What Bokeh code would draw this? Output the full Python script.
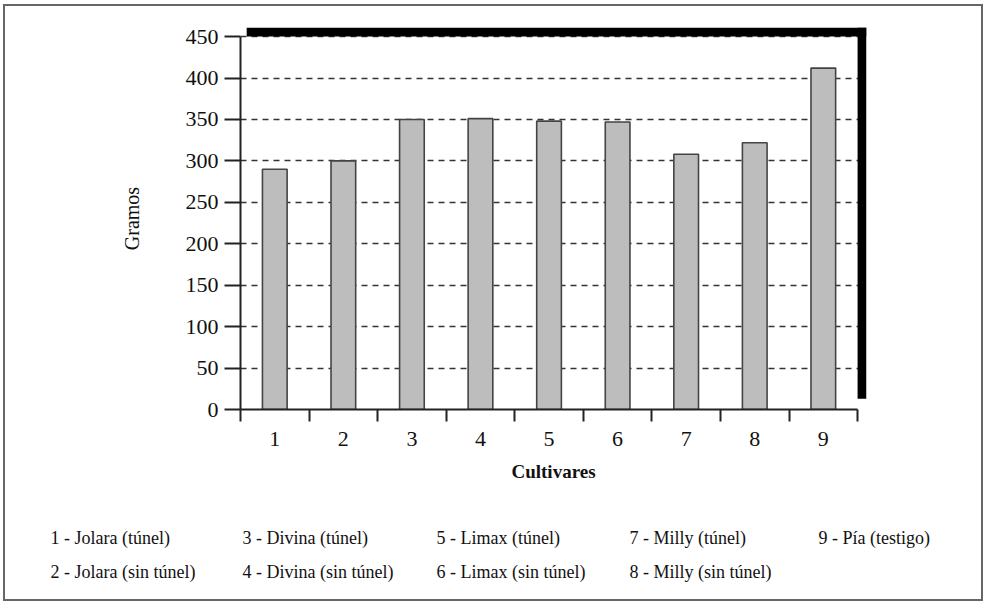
from bokeh.plotting import figure
from bokeh.models import FixedTicker, Range1d, ColumnDataSource
from bokeh.layouts import column, row
from bokeh.core.properties import value
from bokeh.embed import file_html
from bokeh.resources import INLINE

# ---- data ----
cultivares = [1, 2, 3, 4, 5, 6, 7, 8, 9]
gramos = [290, 300, 350, 351, 348, 347, 308, 322, 412]
y_ticks = [0, 50, 100, 150, 200, 250, 300, 350, 400, 450]
legend_labels = [
    "1 - Jolara (túnel)", "2 - Jolara (sin túnel)",
    "3 - Divina (túnel)", "4 - Divina (sin túnel)",
    "5 - Limax (túnel)", "6 - Limax (sin túnel)",
    "7 - Milly (túnel)", "8 - Milly (sin túnel)",
    "9 - Pía (testigo)",
]

SERIF = "Liberation Serif"
TXT = "#111111"

W = 976
HP, HL = 500, 93
X0, X1 = 0.5, 9.63
Y0, Y1 = 0, 461
FL, FR, FT, FB = 235, 861, 21, 403  # frame edges in canvas px

p = figure(width=W, height=HP, output_backend="svg", toolbar_location=None,
           x_range=Range1d(X0, X1), y_range=Range1d(Y0, Y1),
           min_border_left=FL, min_border_right=W - FR,
           min_border_top=FT, min_border_bottom=HP - FB)
p.outline_line_color = None
p.background_fill_color = "white"
p.border_fill_color = "white"

# grid
p.xgrid.visible = False
p.ygrid.ticker = FixedTicker(ticks=y_ticks[1:])
p.ygrid.grid_line_color = "#333"
p.ygrid.grid_line_dash = "6 5"
p.ygrid.grid_line_width = 1.3

# bars
p.vbar(x=cultivares, top=gramos, width=0.36, bottom=0,
       fill_color="#bdbdbd", line_color="#444444", line_width=1.6)

# thick black frame (top and right)
p.quad(left=[0.59], right=[X1], bottom=[y_ticks[-1]], top=[Y1],
       fill_color="black", line_color=None)
p.quad(left=[9.5], right=[X1], bottom=[13], top=[Y1],
       fill_color="black", line_color=None)

# y axis
ya = p.yaxis[0]
ya.ticker = FixedTicker(ticks=y_ticks)
ya.bounds = (0, 450)
ya.axis_line_width = 2
ya.axis_line_color = "#222"
ya.major_tick_line_width = 2
ya.major_tick_line_color = "#222"
ya.major_tick_out = 16
ya.major_tick_in = 0
ya.minor_tick_line_color = None
ya.major_label_text_font = SERIF
ya.major_label_text_font_size = "22px"
ya.major_label_text_color = TXT
ya.major_label_standoff = 6
ya.axis_label = "Gramos"
ya.axis_label_text_font = SERIF
ya.axis_label_text_font_style = "normal"
ya.axis_label_text_font_size = "20px"
ya.axis_label_text_color = TXT
ya.axis_label_standoff = 40

# x axis
xa = p.xaxis[0]
xa.ticker = FixedTicker(ticks=cultivares, minor_ticks=[c - 0.5 for c in cultivares] + [9.5])
xa.bounds = (0.5, 9.5)
xa.axis_line_width = 2
xa.axis_line_color = "#222"
xa.major_tick_out = 0
xa.major_tick_in = 0
xa.minor_tick_out = 12
xa.minor_tick_in = 0
xa.minor_tick_line_width = 2
xa.minor_tick_line_color = "#222"
xa.major_label_text_font = SERIF
xa.major_label_text_font_size = "22px"
xa.major_label_text_color = TXT
xa.major_label_standoff = 10
xa.axis_label = "Cultivares"
xa.axis_label_text_font = SERIF
xa.axis_label_text_font_style = "bold"
xa.axis_label_text_font_size = "19px"
xa.axis_label_text_color = TXT
xa.axis_label_standoff = 12

# ---- legend text panel below the chart ----
col_px = [45, 237, 431, 624, 813]
row_px = [31, 65]
lx, ly = [], []
for i, _ in enumerate(legend_labels):
    c, r = divmod(i, 2)
    lx.append(col_px[c])
    ly.append(row_px[r])
leg_src = ColumnDataSource(dict(x=lx, y=ly, t=legend_labels))

leg = figure(width=W, height=HL, output_backend="svg", toolbar_location=None,
             x_range=Range1d(0, W), y_range=Range1d(HL, 0),
             x_axis_type=None, y_axis_type=None,
             min_border=0, min_border_left=0, min_border_right=0,
             min_border_top=0, min_border_bottom=0)
leg.outline_line_color = None
leg.grid.visible = False
leg.background_fill_color = "white"
leg.border_fill_color = "white"
leg.text(x="x", y="y", text="t", source=leg_src,
         text_font=value(SERIF), text_font_size="18px", text_color=TXT,
         text_baseline="middle", text_align="left")

layout = column(p, row(leg, spacing=0), spacing=0,
                styles={"border": "2px solid #666", "margin": "4px 0 0 3px",
                        "background-color": "white"})

open("out.html", "w").write(file_html(layout, INLINE))
